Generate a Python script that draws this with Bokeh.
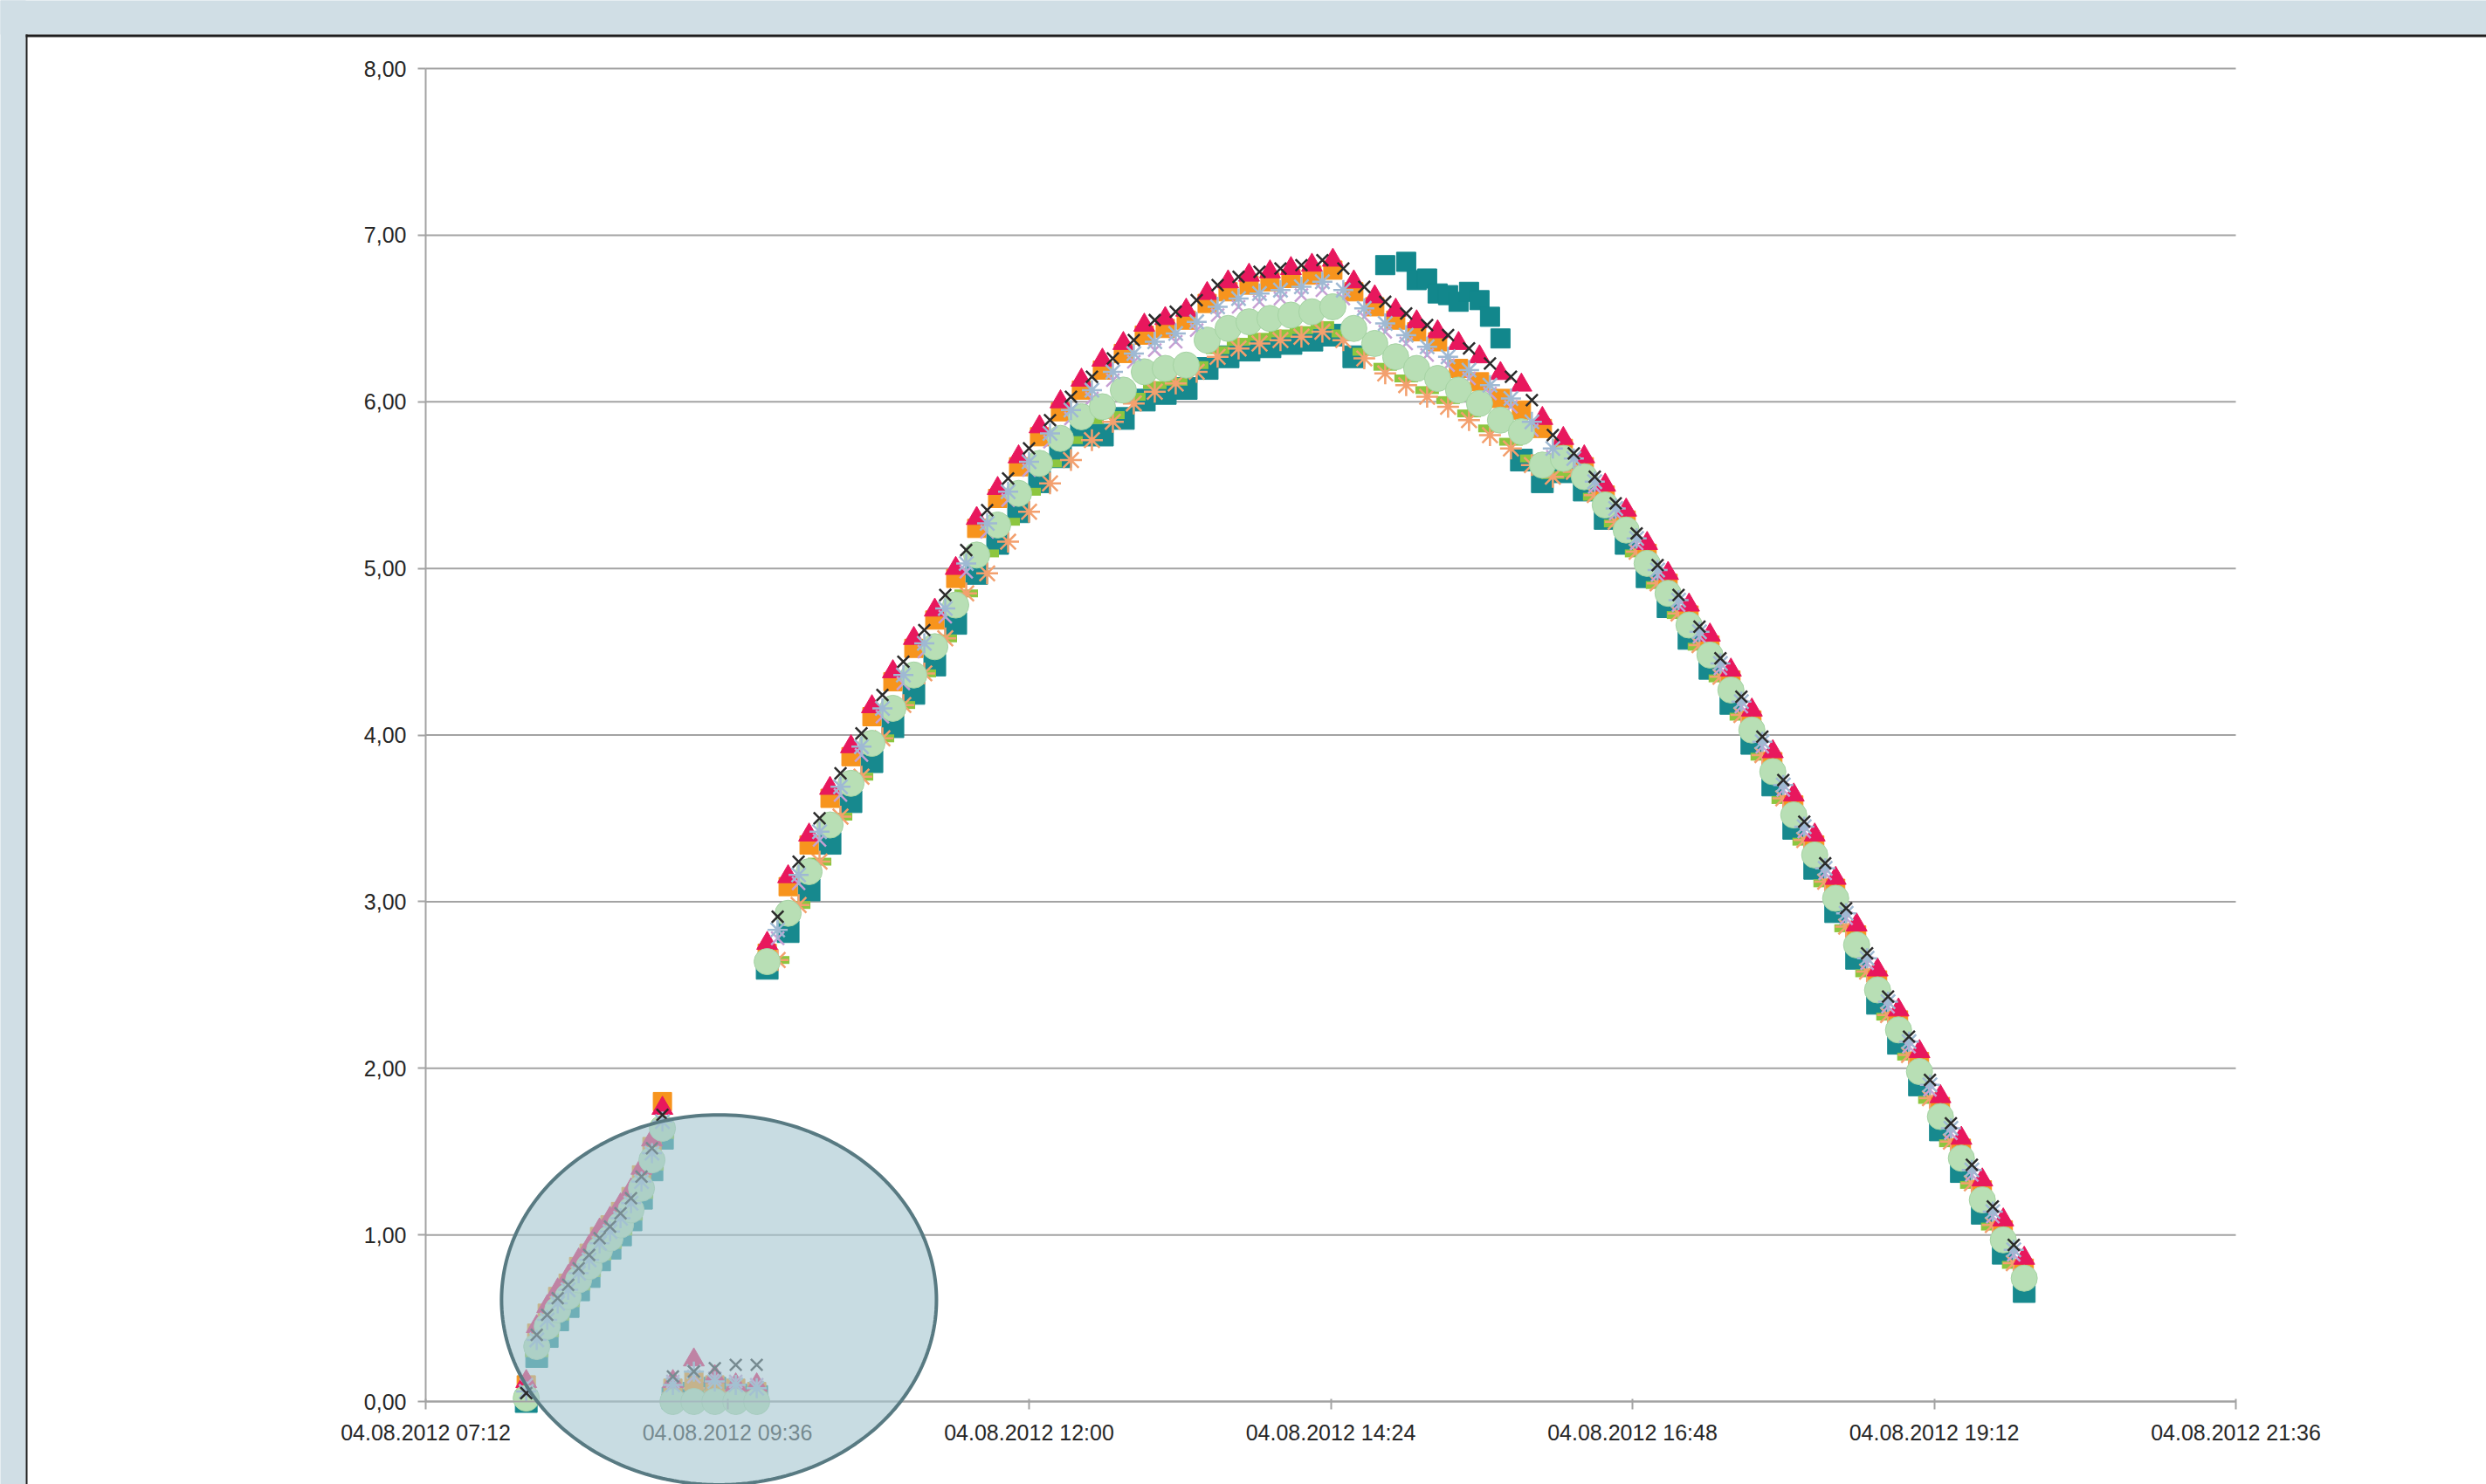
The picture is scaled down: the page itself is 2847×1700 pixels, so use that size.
import numpy as np
import pandas as pd
from bokeh.plotting import figure
from bokeh.models import (ColumnDataSource, Range1d, FixedTicker, DatetimeTickFormatter,
                          BoxAnnotation, PolyAnnotation)
from bokeh.embed import file_html
from bokeh.resources import INLINE

DAY = "2012-08-04"
# sampling grids: morning ramp (5 min), near-zero readings (10 min), main day curve (10 min);
# half of the loggers report on the :55/:05 grid (A), the others 5 minutes later (B)
times_morning = pd.date_range(f"{DAY} 08:00", f"{DAY} 09:05", freq="5min")   # 14
times_zero = pd.date_range(f"{DAY} 09:10", f"{DAY} 09:50", freq="10min")     # 5
times_day_a = pd.date_range(f"{DAY} 09:55", f"{DAY} 19:55", freq="10min")    # 61
times_day_b = pd.date_range(f"{DAY} 10:00", f"{DAY} 19:50", freq="10min")    # 60
times_a = times_morning.append(times_zero).append(times_day_a)
times_b = times_morning.append(times_zero).append(times_day_b)

nan = float("nan")
# ---- grid A series (morning 14 | near zero 5 | day 61) ----
pink = [0.12, 0.45, 0.57, 0.67, 0.75, 0.85, 0.93, 1.03, 1.10, 1.18, 1.27, 1.40, 1.57, 1.76,
        0.12, 0.25, 0.15, 0.10, 0.10,
        2.75, 3.15, 3.40, 3.68, 3.93, 4.17, 4.38, 4.58, 4.75, 5.00, 5.30, 5.48, 5.67, 5.85, 6.00, 6.13,
        6.25, 6.35, 6.46, 6.50, 6.55, 6.65, 6.72, 6.76, 6.78, 6.80, 6.82, 6.85, 6.72, 6.63, 6.55, 6.48,
        6.42, 6.35, 6.27, 6.17, 6.10, 5.90,
        5.78, 5.67, 5.50, 5.35, 5.15, 4.97, 4.78, 4.60, 4.39, 4.15, 3.90, 3.64, 3.40, 3.14, 2.86, 2.59,
        2.35, 2.10, 1.83, 1.58, 1.33, 1.09, 0.86]
orange = [0.10, 0.41, 0.53, 0.63, 0.71, 0.81, 0.89, 0.99, 1.06, 1.14, 1.23, 1.36, 1.53, 1.80,
          0.08, 0.12, 0.10, 0.08, 0.06,
          2.69, 3.09, 3.34, 3.62, 3.87, 4.11, 4.32, 4.52, 4.69, 4.94, 5.24, 5.42, 5.61, 5.79, 5.94, 6.07,
          6.19, 6.29, 6.40, 6.44, 6.49, 6.59, 6.66, 6.70, 6.72, 6.74, 6.76, 6.79, 6.66, 6.57, 6.49, 6.42,
          6.36, 6.20, 6.12, 6.02, 5.95, 5.84,
          5.72, 5.61, 5.44, 5.29, 5.09, 4.91, 4.72, 4.54, 4.33, 4.09, 3.84, 3.58, 3.34, 3.08, 2.80, 2.53,
          2.29, 2.04, 1.77, 1.52, 1.27, 1.03, 0.80]
mint = [0.02, 0.33, 0.45, 0.55, 0.63, 0.73, 0.81, 0.91, 0.98, 1.06, 1.15, 1.28, 1.45, 1.64,
        0.00, 0.00, 0.00, 0.00, 0.00,
        2.64, 2.93, 3.18, 3.46, 3.71, 3.95, 4.16, 4.36, 4.53, 4.78, 5.08, 5.26, 5.45, 5.63, 5.78, 5.91,
        5.97, 6.07, 6.18, 6.20, 6.22, 6.37, 6.44, 6.48, 6.50, 6.52, 6.54, 6.57, 6.44, 6.35, 6.27, 6.20,
        6.14, 6.07, 5.99, 5.89, 5.82, 5.62,
        5.66, 5.55, 5.38, 5.23, 5.03, 4.85, 4.66, 4.48, 4.27, 4.03, 3.78, 3.52, 3.28, 3.02, 2.74, 2.47,
        2.23, 1.98, 1.71, 1.46, 1.21, 0.97, 0.74]
teal = [0.00, 0.27, 0.39, 0.49, 0.57, 0.67, 0.75, 0.85, 0.92, 1.00, 1.09, 1.22, 1.39, 1.58,
        0.02, 0.05, 0.08, 0.04, 0.03,
        2.60, 2.82, 3.07, 3.35, 3.60, 3.84, 4.05, 4.25, 4.42, 4.67, 4.97, 5.15, 5.34, 5.52, 5.67, 5.80,
        5.80, 5.90, 6.01, 6.05, 6.08, 6.20, 6.27, 6.31, 6.33, 6.35, 6.37, 6.40, 6.27, nan, nan, nan,
        nan, nan, nan, nan, 5.65, 5.52,
        5.58, 5.47, 5.30, 5.15, 4.95, 4.77, 4.58, 4.40, 4.19, 3.95, 3.70, 3.44, 3.20, 2.94, 2.66, 2.39,
        2.15, 1.90, 1.63, 1.38, 1.13, 0.89, 0.66]

# ---- grid B series (morning 14 | near zero 5 | day 60) ----
black = [0.05, 0.40, 0.52, 0.62, 0.70, 0.80, 0.88, 0.98, 1.05, 1.13, 1.22, 1.35, 1.52, 1.72,
         0.15, 0.18, 0.20, 0.22, 0.22,
         2.91, 3.24, 3.50, 3.77, 4.01, 4.24, 4.44, 4.63, 4.84, 5.11, 5.35, 5.54, 5.72, 5.89, 6.03, 6.15,
         6.26, 6.37, 6.49, 6.54, 6.61, 6.70, 6.75, 6.78, 6.80, 6.82, 6.85, 6.80, 6.69, 6.60, 6.53, 6.46,
         6.40, 6.32, 6.23, 6.15, 6.01, 5.80,
         5.69, 5.55, 5.39, 5.21, 5.02, 4.84, 4.65, 4.46, 4.23, 3.99, 3.73, 3.48, 3.23, 2.96, 2.69, 2.43,
         2.19, 1.93, 1.67, 1.42, 1.17, 0.94]
lightblue = [0.06, 0.37, 0.49, 0.59, 0.67, 0.77, 0.85, 0.95, 1.02, 1.10, 1.19, 1.32, 1.49, 1.68,
             0.10, 0.18, 0.12, 0.10, 0.08,
             2.83, 3.16, 3.42, 3.69, 3.93, 4.16, 4.36, 4.55, 4.76, 5.03, 5.27, 5.46, 5.64, 5.81, 5.95, 6.07,
             6.18, 6.29, 6.36, 6.41, 6.48, 6.57, 6.62, 6.65, 6.67, 6.69, 6.72, 6.67, 6.56, 6.47, 6.40, 6.33,
             6.27, 6.19, 6.10, 6.02, 5.88, 5.72,
             5.66, 5.52, 5.36, 5.18, 4.99, 4.81, 4.62, 4.43, 4.20, 3.96, 3.70, 3.45, 3.20, 2.93, 2.66, 2.40,
             2.16, 1.90, 1.64, 1.39, 1.14, 0.91]
lavender = [0.10, 0.35, 0.47, 0.57, 0.65, 0.75, 0.83, 0.93, 1.00, 1.08, 1.17, 1.30, 1.47, 1.66,
            0.12, 0.15, 0.14, 0.12, 0.10,
            2.78, 3.11, 3.37, 3.64, 3.88, 4.11, 4.31, 4.50, 4.71, 4.98, 5.22, 5.41, 5.59, 5.76, 5.90, 6.02,
            6.13, 6.24, 6.31, 6.36, 6.43, 6.52, 6.57, 6.60, 6.62, 6.64, 6.67, 6.62, 6.51, 6.42, 6.35, 6.28,
            6.22, 6.14, 6.05, 5.97, 5.83, 5.67,
            5.63, 5.49, 5.33, 5.15, 4.96, 4.78, 4.59, 4.40, 4.17, 3.93, 3.67, 3.42, 3.17, 2.90, 2.63, 2.37,
            2.13, 1.87, 1.61, 1.36, 1.11, 0.88]
lime = [0.03, 0.29, 0.41, 0.51, 0.59, 0.69, 0.77, 0.87, 0.94, 1.02, 1.11, 1.24, 1.41, 1.60,
        0.02, 0.03, 0.05, 0.02, 0.02,
        2.65, 2.98, 3.24, 3.51, 3.75, 3.98, 4.18, 4.37, 4.58, 4.85, 5.09, 5.28, 5.46, 5.63, 5.77, 5.89,
        5.92, 6.03, 6.10, 6.12, 6.22, 6.31, 6.36, 6.39, 6.41, 6.43, 6.46, 6.41, 6.30, 6.21, 6.14, 6.07,
        6.01, 5.93, 5.84, 5.76, 5.66, 5.56,
        5.57, 5.43, 5.27, 5.09, 4.90, 4.72, 4.53, 4.34, 4.11, 3.87, 3.61, 3.36, 3.11, 2.84, 2.57, 2.31,
        2.07, 1.81, 1.55, 1.30, 1.05, 0.82]
salmon = [0.05, 0.33, 0.45, 0.55, 0.63, 0.73, 0.81, 0.91, 0.98, 1.06, 1.15, 1.28, 1.45, 1.64,
          0.05, 0.08, 0.06, 0.05, 0.05,
          2.65, 2.98, 3.24, 3.51, 3.75, 3.98, 4.18, 4.37, 4.58, 4.85, 4.97, 5.16, 5.34, 5.51, 5.65, 5.77,
          5.88, 5.99, 6.06, 6.11, 6.18, 6.27, 6.32, 6.35, 6.37, 6.39, 6.42, 6.37, 6.26, 6.17, 6.10, 6.03,
          5.97, 5.89, 5.80, 5.72, 5.62, 5.55,
          5.58, 5.44, 5.28, 5.10, 4.91, 4.73, 4.54, 4.35, 4.12, 3.88, 3.62, 3.37, 3.12, 2.85, 2.58, 2.32,
          2.08, 1.82, 1.56, 1.31, 1.06, 0.83]

# teal readings that jump above the others in the afternoon
teal_high_times = ["14:50", "15:00", "15:05", "15:10", "15:15", "15:20", "15:25", "15:30", "15:35", "15:40", "15:45"]
teal_high = [6.82, 6.84, 6.73, 6.74, 6.65, 6.64, 6.60, 6.66, 6.61, 6.51, 6.38]

# axes
x_tick_times = ["07:12", "09:36", "12:00", "14:24", "16:48", "19:12", "21:36"]
y_ticks = [0, 1, 2, 3, 4, 5, 6, 7, 8]
y_tick_labels = ["0,00", "1,00", "2,00", "3,00", "4,00", "5,00", "6,00", "7,00", "8,00"]

for name, s in [("pink", pink), ("orange", orange), ("mint", mint), ("teal", teal)]:
    assert len(s) == len(times_a), (name, len(s), len(times_a))
for name, s in [("black", black), ("lightblue", lightblue), ("lavender", lavender),
                ("lime", lime), ("salmon", salmon)]:
    assert len(s) == len(times_b), (name, len(s), len(times_b))

BASE_MS = pd.Timestamp(DAY).value / 1e6
H_MS = 3600 * 1000.0


def ms(hhmm):
    return pd.Timestamp(f"{DAY} {hhmm}").value / 1e6


# ---- layout (canvas pixels) ----
W, H = 2847, 1700
AX_L, AX_R = 487, 2560      # canvas x of 07:12 and 21:36
AX_T, AX_B = 78, 1605       # canvas y of 8 and 0
px_per_h = (AX_R - AX_L) / 14.4
px_per_u = (AX_B - AX_T) / 8.0
x_start = BASE_MS + (7.2 - AX_L / px_per_h) * H_MS
x_end = BASE_MS + (21.6 + (W - AX_R) / px_per_h) * H_MS
y_top = 8 + AX_T / px_per_u
y_bot = -(H - AX_B) / px_per_u


def cx(px):   # canvas x -> data
    return BASE_MS + (7.2 + (px - AX_L) / px_per_h) * H_MS


def cy(py):   # canvas y -> data
    return (AX_B - py) / px_per_u


p = figure(width=W, height=H, x_axis_type="datetime",
           x_range=Range1d(x_start, x_end), y_range=Range1d(y_bot, y_top),
           output_backend="svg", toolbar_location=None, min_border=0,
           min_border_left=0, min_border_right=0, min_border_top=0, min_border_bottom=0)
p.background_fill_color = "white"
p.border_fill_color = "white"
p.outline_line_color = None
p.xgrid.grid_line_color = None
p.ygrid.grid_line_color = None

# slide frame: light strips and the dark panel edge
strips = [(cx(-50), cx(W + 50), cy(39), cy(-50), "#D0DEE5"),
          (cx(-50), cx(29), cy(H + 50), cy(-50), "#D0DEE5"),
          (cx(29), cx(W + 50), cy(42), cy(39), "#1E1E1E"),
          (cx(29), cx(31), cy(H + 50), cy(39), "#1E1E1E")]
for l, r, b, t, c in strips:
    p.add_layout(BoxAnnotation(left=l, right=r, top=t, bottom=b,
                               fill_color=c, fill_alpha=1.0, line_alpha=0, level="underlay"))

# horizontal gridlines between the axis ends
p.segment(x0=[ms("07:12")] * len(y_ticks), x1=[ms("21:36")] * len(y_ticks), y0=y_ticks, y1=y_ticks,
          line_color="#A3A3A3", line_width=2)

# axes (fixed inside the frame)
p.yaxis.ticker = FixedTicker(ticks=y_ticks)
p.yaxis.major_label_overrides = {t: lab for t, lab in zip(y_ticks, y_tick_labels)}
p.yaxis.fixed_location = ms("07:12")
p.yaxis.bounds = (0, 8)
p.xaxis.ticker = FixedTicker(ticks=[ms(t) for t in x_tick_times])
p.xaxis.fixed_location = 0
p.xaxis.bounds = (ms("07:12"), ms("21:36"))
fmt = "%d.%m.%Y %H:%M"
p.xaxis.formatter = DatetimeTickFormatter(microseconds=fmt, milliseconds=fmt, seconds=fmt,
                                          minsec=fmt, minutes=fmt, hourmin=fmt, hours=fmt,
                                          days=fmt, months=fmt, years=fmt)
for ax in (p.xaxis[0], p.yaxis[0]):
    ax.axis_line_color = "#A3A3A3"
    ax.axis_line_width = 2
    ax.major_tick_line_color = "#A3A3A3"
    ax.major_tick_line_width = 2
    ax.minor_tick_line_color = None
    ax.major_label_text_font = "Liberation Sans"
    ax.major_label_text_font_size = "25px"
    ax.major_label_text_color = "#262626"
p.yaxis.major_tick_out = 9
p.yaxis.major_tick_in = 0
p.yaxis.major_label_standoff = 13
p.xaxis.major_tick_out = 9
p.xaxis.major_tick_in = 3
p.xaxis.major_label_standoff = 12


def src_a(vals):
    return ColumnDataSource(data=dict(t=times_a, v=vals))


def src_b(vals):
    return ColumnDataSource(data=dict(t=times_b, v=vals))


p.scatter("t", "v", source=src_a(teal), marker="square", size=25, fill_color="#17898E", line_color="#17898E")
p.scatter("t", "v", source=src_b(lime), marker="dash", size=27, line_color="#8DC63F", line_width=9)
p.scatter("t", "v", source=src_b(salmon), marker="asterisk", size=25, line_color="#F3A06E", line_width=2.5)
p.scatter("t", "v", source=src_a(orange), marker="square", size=21, fill_color="#F7941D", line_color="#F7941D")
p.scatter("t", "v", source=src_a(pink), marker="triangle", size=24, fill_color="#E8175D", line_color="#E8175D")
p.scatter("t", "v", source=src_b(lavender), marker="x", size=21, line_color="#C7A0D4", line_width=2.5)
p.scatter("t", "v", source=src_a(mint), marker="circle", size=30, fill_color="#B8DFB5", line_color="#A5D3A3")
p.scatter("t", "v", source=src_b(lightblue), marker="asterisk", size=23, line_color="#9FB9D3", line_width=2.5)
p.scatter("t", "v", source=src_b(black), marker="x", size=19, line_color="#2B2B2B", line_width=2.5)
teal_hi_src = ColumnDataSource(data=dict(t=pd.to_datetime([f"{DAY} {h}" for h in teal_high_times]), v=teal_high))
p.scatter("t", "v", source=teal_hi_src, marker="square", size=22, fill_color="#12878C", line_color="#12878C")

# highlight ellipse around the early readings
e_cx, e_rx = ms("09:32"), 1.73 * H_MS
e_cy, e_ry = 0.61, 1.11
theta = np.linspace(0, 2 * np.pi, 241)
p.add_layout(PolyAnnotation(xs=list(e_cx + e_rx * np.cos(theta)), ys=list(e_cy + e_ry * np.sin(theta)),
                            xs_units="data", ys_units="data",
                            fill_color="#A6C6D0", fill_alpha=0.62,
                            line_color="#587A82", line_alpha=1.0, line_width=4, level="annotation"))

open("out.html", "w").write(file_html(p, INLINE))
